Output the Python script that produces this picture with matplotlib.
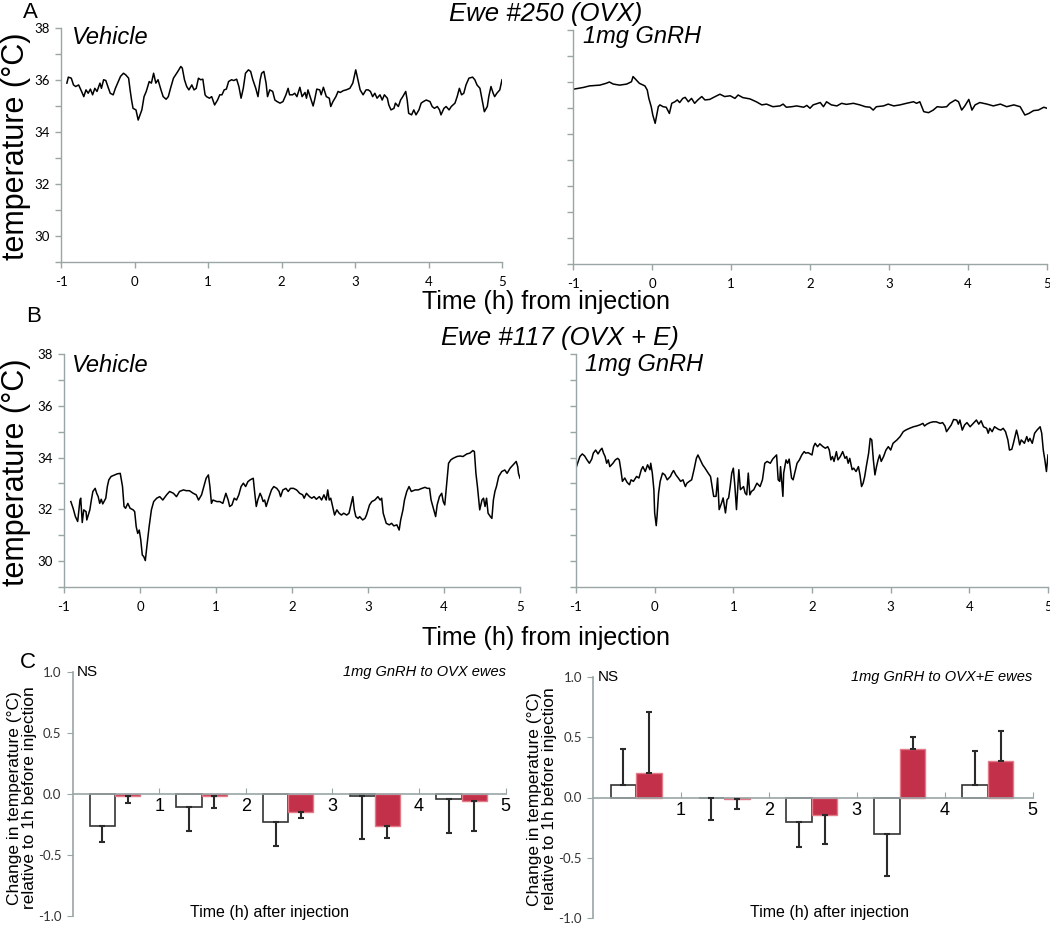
import numpy as np
import matplotlib
matplotlib.use("Agg")
import matplotlib.pyplot as plt

plt.rcParams['axes.unicode_minus'] = False

# Ewe #250 (OVX), vehicle
a_veh = np.array([
    (-0.92,35.88),(-0.90,36.11),(-0.86,36.07),(-0.83,35.81),(-0.80,35.75),(-0.76,35.81),(-0.72,35.56),(-0.69,35.36),
    (-0.66,35.62),(-0.63,35.49),(-0.60,35.65),(-0.57,35.43),(-0.54,35.68),(-0.51,35.56),(-0.47,35.88),(-0.45,35.68),
    (-0.42,36.01),(-0.39,35.98),(-0.37,35.81),(-0.33,35.49),(-0.29,35.43),(-0.26,35.68),(-0.22,35.94),(-0.19,36.14),
    (-0.15,36.26),(-0.12,36.20),(-0.08,36.07),(-0.06,35.62),(-0.04,35.23),(-0.02,34.91),(0.02,34.85),(0.05,34.46),
    (0.10,34.85),(0.13,35.36),(0.16,35.56),(0.20,35.94),(0.23,35.88),(0.26,36.26),(0.29,35.88),(0.32,36.01),
    (0.36,35.62),(0.39,35.36),(0.43,35.26),(0.46,35.36),(0.49,35.68),(0.53,36.07),(0.56,36.20),(0.59,36.33),
    (0.63,36.52),(0.65,36.46),(0.68,36.01),(0.71,35.75),(0.74,35.62),(0.78,35.81),(0.81,35.62),(0.84,35.68),
    (0.87,36.07),(0.90,36.01),(0.93,36.03),(0.96,35.43),(0.98,35.36),(1.02,35.30),(1.05,35.36),(1.09,35.04),
    (1.13,35.23),(1.16,35.43),(1.19,35.43),(1.22,35.62),(1.25,35.65),(1.28,35.94),(1.32,36.01),(1.35,35.98),
    (1.39,36.03),(1.42,35.75),(1.45,35.30),(1.48,35.68),(1.51,36.26),(1.55,36.39),(1.58,36.33),(1.61,36.01),
    (1.65,35.68),(1.68,35.36),(1.71,36.01),(1.73,36.26),(1.76,36.33),(1.79,35.88),(1.81,35.36),(1.84,35.62),
    (1.88,35.56),(1.91,35.23),(1.94,35.17),(1.98,35.11),(2.02,35.17),(2.06,35.43),(2.09,35.68),(2.11,35.43),
    (2.15,35.43),(2.18,35.49),(2.21,35.36),(2.25,35.72),(2.28,35.36),(2.32,35.52),(2.34,35.30),(2.36,35.62),
    (2.39,35.36),(2.43,35.00),(2.45,35.23),(2.48,35.65),(2.52,35.62),(2.54,35.43),(2.57,35.72),(2.61,35.36),
    (2.65,35.30),(2.67,34.98),(2.70,35.17),(2.74,35.36),(2.77,35.56),(2.80,35.52),(2.84,35.59),(2.88,35.62),
    (2.93,35.68),(2.97,35.88),(3.01,36.39),(3.04,36.01),(3.07,35.62),(3.11,35.43),(3.15,35.62),(3.18,35.62),
    (3.21,35.56),(3.24,35.36),(3.27,35.49),(3.30,35.30),(3.34,35.43),(3.37,35.23),(3.40,35.43),(3.44,35.30),
    (3.46,35.04),(3.49,34.85),(3.53,34.91),(3.55,35.11),(3.59,34.98),(3.62,35.23),(3.65,35.36),(3.69,35.56),
    (3.71,35.23),(3.73,34.72),(3.77,34.66),(3.80,34.85),(3.83,34.66),(3.87,34.85),(3.90,35.11),(3.93,35.17),
    (3.97,35.23),(4.02,35.17),(4.05,34.98),(4.08,34.91),(4.12,34.98),(4.15,34.85),(4.17,34.66),(4.21,34.91),
    (4.24,34.98),(4.28,34.85),(4.31,34.98),(4.36,35.11),(4.39,35.36),(4.42,35.68),(4.45,35.43),(4.48,35.49),
    (4.51,35.81),(4.55,36.07),(4.60,36.11),(4.63,36.01),(4.66,35.81),(4.70,35.68),(4.73,35.23),(4.76,34.78),
    (4.80,34.98),(4.82,35.36),(4.85,35.75),(4.88,35.49),(4.90,35.36),(4.93,35.49),(4.97,35.62),(5.00,36.01)])

# Ewe #250 (OVX), 1mg GnRH
a_gnrh = np.array([
    (-1.00,35.72),(-0.87,35.79),(-0.79,35.85),(-0.66,35.88),(-0.58,35.95),(-0.54,36.00),(-0.49,35.92),(-0.41,35.88),
    (-0.32,35.92),(-0.26,36.01),(-0.24,36.21),(-0.20,36.08),(-0.16,35.95),(-0.09,35.85),(-0.06,35.69),(-0.04,35.37),
    (-0.01,35.05),(0.01,34.73),(0.04,34.41),(0.06,34.73),(0.08,35.05),(0.10,35.12),(0.14,35.05),(0.18,35.03),
    (0.22,34.79),(0.25,35.18),(0.29,35.24),(0.32,35.31),(0.35,35.21),(0.39,35.37),(0.42,35.41),(0.46,35.24),
    (0.50,35.37),(0.54,35.18),(0.58,35.31),(0.63,35.44),(0.67,35.31),(0.73,35.33),(0.80,35.44),(0.86,35.53),
    (0.92,35.44),(0.99,35.47),(1.05,35.37),(1.09,35.50),(1.15,35.40),(1.24,35.35),(1.32,35.24),(1.39,35.12),
    (1.45,35.15),(1.53,35.05),(1.62,35.08),(1.66,35.15),(1.70,35.03),(1.77,35.05),(1.83,35.08),(1.92,35.03),
    (1.96,35.10),(2.00,34.99),(2.04,35.12),(2.13,35.21),(2.17,35.05),(2.21,35.24),(2.27,35.12),(2.34,35.08),
    (2.40,35.18),(2.46,35.14),(2.55,35.18),(2.63,35.12),(2.70,35.05),(2.76,35.03),(2.80,34.92),(2.84,35.05),
    (2.93,35.08),(2.99,35.15),(3.06,35.08),(3.14,35.12),(3.22,35.18),(3.31,35.24),(3.35,35.18),(3.39,35.24),
    (3.44,34.86),(3.50,34.82),(3.56,34.92),(3.61,35.05),(3.67,35.03),(3.73,35.05),(3.77,35.18),(3.84,35.31),
    (3.88,35.24),(3.92,34.92),(3.96,35.08),(4.01,35.33),(4.05,34.92),(4.09,35.12),(4.15,35.21),(4.24,35.15),
    (4.32,35.08),(4.41,35.15),(4.49,35.05),(4.58,35.12),(4.66,35.05),(4.72,34.73),(4.77,34.79),(4.83,34.90),
    (4.89,34.92),(4.96,35.03),(5.00,34.99)])

# Ewe #117 (OVX + E), vehicle
b_veh = np.array([
    (-0.91,32.30),(-0.88,32.04),(-0.85,31.72),(-0.82,31.53),(-0.79,32.36),(-0.78,32.43),(-0.76,31.49),(-0.74,31.98),
    (-0.71,31.91),(-0.70,31.59),(-0.66,31.98),(-0.64,32.36),(-0.62,32.69),(-0.59,32.81),(-0.57,32.62),(-0.55,32.49),
    (-0.53,32.23),(-0.51,32.39),(-0.49,32.21),(-0.45,32.43),(-0.43,32.88),(-0.41,33.14),(-0.38,33.27),(-0.33,33.33),
    (-0.30,33.37),(-0.26,33.39),(-0.23,32.88),(-0.21,32.11),(-0.19,32.04),(-0.16,32.23),(-0.13,32.04),(-0.09,31.98),
    (-0.07,31.91),(-0.05,31.33),(-0.03,31.07),(-0.01,31.20),(0.01,30.82),(0.03,30.24),(0.05,30.17),(0.07,30.02),
    (0.09,30.56),(0.12,31.33),(0.15,31.98),(0.18,32.30),(0.22,32.43),(0.26,32.49),(0.30,32.36),(0.35,32.56),
    (0.39,32.69),(0.44,32.62),(0.48,32.49),(0.52,32.69),(0.57,32.75),(0.61,32.72),(0.65,32.72),(0.70,32.62),
    (0.74,32.56),(0.77,32.36),(0.81,32.56),(0.84,32.88),(0.87,33.20),(0.90,33.33),(0.92,32.88),(0.94,32.23),
    (0.96,32.36),(1.01,32.30),(1.05,32.30),(1.09,32.23),(1.13,32.62),(1.16,32.36),(1.18,32.11),(1.21,32.17),
    (1.24,32.43),(1.27,32.36),(1.30,32.56),(1.33,32.88),(1.36,33.01),(1.39,32.88),(1.42,33.07),(1.45,33.14),
    (1.49,33.20),(1.51,32.62),(1.53,32.11),(1.55,32.36),(1.58,32.62),(1.60,32.49),(1.62,32.30),(1.64,32.36),
    (1.66,32.11),(1.70,32.49),(1.73,32.75),(1.76,32.88),(1.80,32.81),(1.83,32.69),(1.85,32.49),(1.88,32.75),
    (1.92,32.81),(1.95,32.69),(1.98,32.81),(2.02,32.81),(2.06,32.75),(2.08,32.69),(2.10,32.62),(2.14,32.56),
    (2.16,32.43),(2.19,32.62),(2.23,32.49),(2.26,32.43),(2.29,32.49),(2.32,32.39),(2.36,32.49),(2.39,32.36),
    (2.42,32.56),(2.45,32.36),(2.47,32.75),(2.49,32.36),(2.51,32.43),(2.53,32.17),(2.56,31.78),(2.59,31.98),
    (2.62,31.85),(2.65,31.78),(2.68,31.85),(2.72,31.78),(2.75,31.85),(2.78,32.23),(2.80,32.49),(2.82,31.98),
    (2.84,31.72),(2.87,31.65),(2.89,31.72),(2.93,31.59),(2.96,31.65),(2.98,31.78),(3.02,32.17),(3.05,32.30),
    (3.09,32.36),(3.13,32.49),(3.16,32.36),(3.18,32.43),(3.20,31.85),(3.24,31.46),(3.28,31.40),(3.31,31.46),
    (3.34,31.36),(3.38,31.40),(3.41,31.20),(3.43,31.59),(3.46,31.98),(3.48,32.36),(3.51,32.69),(3.54,32.88),
    (3.57,32.69),(3.62,32.75),(3.66,32.75),(3.71,32.81),(3.75,32.85),(3.78,32.81),(3.81,32.81),(3.83,32.36),
    (3.86,32.04),(3.89,31.72),(3.91,32.17),(3.94,32.49),(3.97,32.62),(3.99,32.30),(4.01,32.17),(4.04,33.14),
    (4.06,33.78),(4.09,33.91),(4.12,33.97),(4.17,34.04),(4.21,34.06),(4.25,34.04),(4.30,34.14),(4.34,34.17),
    (4.38,34.27),(4.40,34.23),(4.42,33.39),(4.44,32.88),(4.47,31.98),(4.50,32.36),(4.52,32.43),(4.54,32.11),
    (4.56,32.43),(4.58,31.85),(4.61,31.72),(4.63,31.65),(4.65,32.36),(4.67,32.69),(4.69,32.88),(4.72,33.27),
    (4.76,33.46),(4.80,33.52),(4.83,33.39),(4.87,33.59),(4.91,33.72),(4.95,33.85),(4.97,33.65),(4.98,33.39),
    (5.00,33.20)])

# Ewe #117 (OVX + E), 1mg GnRH
b_gnrh = np.array([
    (-1.00,33.59),(-0.98,33.78),(-0.95,34.04),(-0.92,34.14),(-0.89,34.06),(-0.86,33.91),(-0.83,33.78),(-0.80,33.94),
    (-0.78,34.17),(-0.75,34.29),(-0.72,34.14),(-0.69,34.29),(-0.67,34.36),(-0.65,34.17),(-0.63,34.04),(-0.61,33.78),
    (-0.59,33.91),(-0.57,33.65),(-0.53,33.78),(-0.50,33.91),(-0.47,33.97),(-0.45,33.91),(-0.43,33.53),(-0.41,33.08),
    (-0.38,33.21),(-0.35,33.04),(-0.32,32.95),(-0.30,33.14),(-0.27,33.08),(-0.23,33.27),(-0.20,33.21),(-0.17,33.53),
    (-0.15,33.65),(-0.12,33.46),(-0.09,33.72),(-0.06,33.53),(-0.05,33.78),(-0.03,33.40),(-0.01,32.76),(0.00,31.86),
    (0.02,31.37),(0.03,31.73),(0.05,32.63),(0.07,33.08),(0.10,33.40),(0.13,33.33),(0.16,33.14),(0.20,33.27),
    (0.22,33.40),(0.24,33.50),(0.27,33.33),(0.30,33.21),(0.33,33.08),(0.36,33.14),(0.39,32.88),(0.41,33.01),
    (0.44,33.08),(0.47,33.14),(0.50,33.53),(0.53,33.97),(0.55,34.10),(0.58,33.91),(0.61,33.72),(0.64,33.59),
    (0.68,33.40),(0.71,33.27),(0.73,32.88),(0.75,32.50),(0.78,32.50),(0.80,33.21),(0.82,31.99),(0.85,32.24),
    (0.87,32.44),(0.90,31.86),(0.92,32.37),(0.94,32.44),(0.96,32.88),(0.98,33.40),(1.00,33.59),(1.02,32.88),
    (1.04,31.99),(1.07,33.53),(1.09,32.76),(1.13,32.88),(1.15,32.63),(1.17,32.56),(1.19,33.40),(1.21,32.56),
    (1.23,32.69),(1.26,32.76),(1.30,33.01),(1.34,32.88),(1.37,33.14),(1.40,33.78),(1.43,33.85),(1.47,33.78),
    (1.50,33.94),(1.53,34.04),(1.55,34.10),(1.57,33.14),(1.59,33.08),(1.60,33.65),(1.63,32.50),(1.64,33.40),
    (1.67,33.91),(1.69,33.78),(1.71,33.94),(1.74,33.21),(1.76,33.14),(1.78,33.40),(1.81,33.78),(1.84,33.91),
    (1.87,34.10),(1.90,34.23),(1.92,34.17),(1.95,34.19),(2.00,34.10),(2.02,34.42),(2.04,34.55),(2.07,34.42),
    (2.10,34.53),(2.14,34.42),(2.17,34.36),(2.20,34.42),(2.22,34.29),(2.24,33.91),(2.26,34.04),(2.28,33.85),
    (2.31,34.23),(2.33,33.91),(2.36,34.04),(2.39,34.23),(2.42,33.97),(2.44,34.04),(2.46,33.78),(2.48,33.97),
    (2.51,33.53),(2.53,33.59),(2.56,33.46),(2.59,33.65),(2.61,33.33),(2.63,32.88),(2.65,33.01),(2.67,33.27),
    (2.69,33.65),(2.72,34.17),(2.74,34.74),(2.76,34.68),(2.78,33.91),(2.80,33.33),(2.82,33.65),(2.84,33.91),
    (2.86,34.10),(2.88,33.85),(2.91,34.04),(2.94,34.29),(2.97,34.42),(3.00,34.29),(3.03,34.55),(3.08,34.68),
    (3.12,34.81),(3.16,35.00),(3.19,35.06),(3.24,35.13),(3.29,35.19),(3.33,35.22),(3.37,35.26),(3.41,35.32),
    (3.43,35.22),(3.46,35.29),(3.50,35.35),(3.54,35.38),(3.58,35.38),(3.63,35.32),(3.66,35.35),(3.69,35.22),
    (3.71,35.00),(3.74,35.13),(3.77,35.26),(3.80,35.47),(3.84,35.45),(3.86,35.29),(3.88,35.45),(3.91,35.06),
    (3.94,35.26),(3.97,35.35),(4.01,35.19),(4.05,35.32),(4.09,35.45),(4.12,35.29),(4.15,35.42),(4.18,35.19),
    (4.22,35.13),(4.24,34.94),(4.26,35.13),(4.29,35.00),(4.32,35.19),(4.37,35.09),(4.40,35.06),(4.43,35.13),
    (4.46,35.00),(4.49,34.68),(4.51,34.29),(4.54,34.32),(4.56,34.55),(4.60,35.06),(4.62,34.81),(4.64,34.49),
    (4.66,34.68),(4.68,34.62),(4.70,34.55),(4.73,34.81),(4.75,34.62),(4.77,34.74),(4.80,34.55),(4.83,34.94),
    (4.86,35.06),(4.90,35.19),(4.92,34.94),(4.94,34.29),(4.96,33.91),(4.98,33.46),(5.00,34.10)])

# panel C: change in temperature per hour after injection (mean, SEM)
hours = [1, 2, 3, 4, 5]
ovx_veh_mean = [-0.26, -0.11, -0.23, -0.02, -0.04]
ovx_veh_err = [0.13, 0.19, 0.20, 0.35, 0.28]
ovx_gnrh_mean = [-0.016, -0.013, -0.145, -0.26, -0.056]
ovx_gnrh_err = [0.06, 0.10, 0.055, 0.10, 0.245]
ovxe_veh_mean = [0.10, -0.005, -0.20, -0.30, 0.10]
ovxe_veh_err = [0.30, 0.185, 0.21, 0.35, 0.29]
ovxe_gnrh_mean = [0.20, -0.014, -0.145, 0.40, 0.30]
ovxe_gnrh_err = [0.51, 0.08, 0.245, 0.10, 0.25]

AXCOL = '#9aa5a5'
SANS = ['Liberation Sans', 'DejaVu Sans']
TICKF = ['Lato', 'DejaVu Sans']
RED = '#c3304a'

fig = plt.figure(figsize=(10.5, 9.33), dpi=100)


def px(x, y):
    return x / 1050, 1 - y / 933


def trace_panel(left, right, top, bottom, data, ylabels=True):
    l, b = px(left, bottom)
    r, t = px(right, top)
    ax = fig.add_axes([l, b, r - l, t - b])
    ax.plot(data[:, 0], data[:, 1], color='black', lw=1.1)
    ax.set_xlim(-1, 5)
    ax.set_ylim(29, 38)
    ax.set_xticks(range(-1, 6))
    ax.set_yticks([30, 32, 34, 36, 38])
    ax.set_yticks([29, 31, 33, 35, 37], minor=True)
    for s in ['top', 'right']:
        ax.spines[s].set_visible(False)
    for s in ['left', 'bottom']:
        ax.spines[s].set_color(AXCOL)
        ax.spines[s].set_linewidth(1.0)
    ax.tick_params(which='both', direction='out', length=4, color=AXCOL, width=1)
    ax.tick_params(axis='x', pad=6)
    ax.tick_params(axis='y', pad=4)
    for lab in ax.get_xticklabels() + ax.get_yticklabels():
        lab.set_family(TICKF)
        lab.set_fontsize(9.5)
    if not ylabels:
        ax.set_yticklabels([])
    return ax


trace_panel(61, 502, 28, 262, a_veh)
trace_panel(573, 1047, 30, 264, a_gnrh, ylabels=False)
trace_panel(64, 520, 354, 587, b_veh)
trace_panel(576, 1048, 354, 587, b_gnrh, ylabels=False)

# texts for A and B
for (x, y, s) in [(30, 13, 'A'), (34, 317, 'B'), (28, 662, 'C')]:
    fig.text(*px(x, y), s, fontsize=16, family=SANS, ha='center', va='center')
fig.text(*px(546, 14), 'Ewe #250 (OVX)', fontsize=18.5, style='italic', family=SANS, ha='center', va='center')
fig.text(*px(560, 338), 'Ewe #117 (OVX + E)', fontsize=18.5, style='italic', family=SANS, ha='center', va='center')
for y in [302, 638]:
    fig.text(*px(546, y), 'Time (h) from injection', fontsize=18, family=SANS, ha='center', va='center')
for (x, y) in [(72, 37), (72, 365)]:
    fig.text(*px(x, y), 'Vehicle', fontsize=17, style='italic', family=SANS, ha='left', va='center')
for (x, y) in [(583, 36), (585, 365)]:
    fig.text(*px(x, y), '1mg GnRH', fontsize=17, style='italic', family=SANS, ha='left', va='center')
for y in [146, 472]:
    fig.text(*px(16, y), 'temperature (°C)', fontsize=22, family=SANS, rotation=90, ha='center', va='center')


def bar_panel(left, right, top, bottom, veh_m, veh_e, gn_m, gn_e, subtitle):
    l, b = px(left, bottom)
    r, t = px(right, top)
    ax = fig.add_axes([l, b, r - l, t - b])
    x = np.array(hours) - 1
    w = 0.29
    ax.bar(x + 0.345, veh_m, w, color='white', edgecolor='#333333', lw=1.2, zorder=2)
    ax.bar(x + 0.635, gn_m, w, color=RED, edgecolor='#e27a88', lw=1.0, zorder=2)
    for off, m, e in [(0.345, veh_m, veh_e), (0.635, gn_m, gn_e)]:
        m = np.array(m)
        e = np.array(e)
        lower = np.where(m < 0, e, 0)
        upper = np.where(m >= 0, e, 0)
        ax.errorbar(x + off, m, yerr=[lower, upper], fmt='none', ecolor='#2a2a2a',
                    elinewidth=1.5, capsize=2.5, capthick=1.5, zorder=3)
    ax.set_xlim(0, 5)
    ax.set_ylim(-1, 1)
    ax.spines['bottom'].set_position(('data', 0))
    for s in ['top', 'right']:
        ax.spines[s].set_visible(False)
    for s in ['left', 'bottom']:
        ax.spines[s].set_color(AXCOL)
        ax.spines[s].set_linewidth(1.2)
    ax.set_xticks(hours)
    ax.set_xticklabels([str(h) for h in hours], family=SANS, fontsize=13)
    ax.set_yticks([-1, -0.5, 0, 0.5, 1])
    ax.set_yticklabels(['-1.0', '-0.5', '0.0', '0.5', '1.0'], family=TICKF, fontsize=9.5, color='#333333')
    ax.tick_params(axis='x', direction='in', length=4, color=AXCOL, pad=3)
    ax.tick_params(axis='y', direction='out', length=4, color=AXCOL, pad=4)
    ax.text(0.01, 1.0, 'NS', transform=ax.transAxes, fontsize=11, family=SANS, ha='left', va='center')
    ax.text(1.0, 1.0, subtitle, transform=ax.transAxes, fontsize=10.5, style='italic',
            family=SANS, ha='right', va='center')
    return ax


bar_panel(72.5, 505.7, 672, 916, ovx_veh_mean, ovx_veh_err, ovx_gnrh_mean, ovx_gnrh_err,
          '1mg GnRH to OVX ewes')
bar_panel(593, 1032.7, 677, 918, ovxe_veh_mean, ovxe_veh_err, ovxe_gnrh_mean, ovxe_gnrh_err,
          '1mg GnRH to OVX+E ewes')

for (x, y) in [(22, 798), (542, 799)]:
    fig.text(*px(x, y), 'Change in temperature (°C)\nrelative to 1h before injection', fontsize=12.5,
             family=SANS, rotation=90, ha='center', va='center', multialignment='center', linespacing=1.0)
for (x, y) in [(270, 912), (830, 913)]:
    fig.text(*px(x, y), 'Time (h) after injection', fontsize=11.5, family=SANS, ha='center', va='center')

fig.savefig('out.png', dpi=100)
